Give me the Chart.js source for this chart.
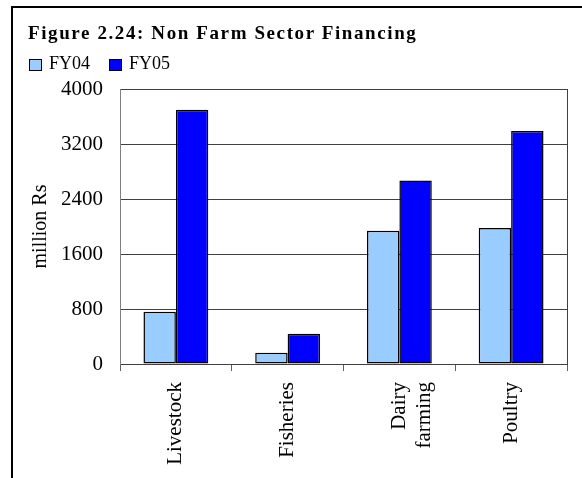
<!DOCTYPE html>
<html>
<head>
<meta charset="utf-8">
<script src="https://cdn.jsdelivr.net/npm/chart.js@4"></script>
<style>
    html, body { margin: 0; padding: 0; background: #fff; overflow: hidden; }
    #wrap { position: relative; width: 582px; height: 478px; }
    #chart { position: absolute; left: 0; top: 0; }
    #frame {
        position: absolute; left: 11px; top: 6px; width: 620px; height: 520px;
        border: 2px solid #000; pointer-events: none;
    }
    #title {
        position: absolute; left: 28px; top: 22px; line-height: 1;
        font: bold 19px "Liberation Serif", "Times New Roman", serif;
        letter-spacing: 1.6px; color: #000; white-space: nowrap;
    }
    #legend {
        position: absolute; left: 29px; top: 53px; display: flex; line-height: 1;
        font: 18px "Liberation Serif", "Times New Roman", serif; color: #000;
    }
    .item { display: flex; align-items: center; margin-right: 19px; }
    .box { width: 11px; height: 10px; border: 1px solid #000; margin-right: 7px; margin-top: 2px; }
</style>
</head>
<body>
<div id="wrap">
    <canvas id="chart" width="582" height="478"></canvas>
    <div id="title">Figure 2.24: Non Farm Sector Financing</div>
    <div id="legend"></div>
    <div id="frame"></div>
</div>
<script>
const categories = ['Livestock', 'Fisheries', ['Dairy', 'farming'], 'Poultry'];
const seriesNames = ['FY04', 'FY05'];
const fy04 = [760, 165, 1940, 1980];
const fy05 = [3700, 440, 2670, 3390];
const seriesColors = ['#99CCFF', '#0000FF'];
const yTicks = [0, 800, 1600, 2400, 3200, 4000];

const serif = '"Liberation Serif", "Times New Roman", serif';
Chart.defaults.font.family = serif;
Chart.defaults.color = '#000';

// legend built from the series
const legend = document.getElementById('legend');
seriesNames.forEach((name, i) => {
    const item = document.createElement('div');
    item.className = 'item';
    item.innerHTML = '<span class="box" style="background:' + seriesColors[i] + '"></span><span>' + name + '</span>';
    legend.appendChild(item);
});

// right border of the plot area
const plotFrame = {
    id: 'plotFrame',
    afterDraw(chart) {
        const { ctx, chartArea: a } = chart;
        ctx.save();
        ctx.strokeStyle = '#404040';
        ctx.lineWidth = 1;
        ctx.beginPath();
        ctx.moveTo(Math.round(a.right) + 0.5, a.top);
        ctx.lineTo(Math.round(a.right) + 0.5, a.bottom);
        ctx.stroke();
        ctx.restore();
    }
};

new Chart(document.getElementById('chart').getContext('2d'), {
    type: 'bar',
    data: {
        labels: categories,
        datasets: [fy04, fy05].map((vals, i) => ({
            label: seriesNames[i],
            data: vals,
            backgroundColor: seriesColors[i],
            borderColor: '#000',
            borderWidth: 1.5,
            borderSkipped: false,
            categoryPercentage: 0.58,
            barPercentage: 1.0,
        })),
    },
    options: {
        animation: false,
        responsive: false,
        layout: { padding: { left: 0, top: 89, right: 15, bottom: 0 } },
        plugins: {
            legend: { display: false },
            tooltip: { enabled: false },
        },
        scales: {
            x: {
                grid: { drawOnChartArea: false, color: '#606060', tickLength: 7, offset: true },
                border: { color: '#404040' },
                ticks: {
                    font: { size: 21 },
                    maxRotation: 90,
                    minRotation: 90,
                    padding: 11,
                    autoSkip: false,
                },
                afterFit(scale) { scale.height = 114; },
            },
            y: {
                min: 0,
                max: 4000,
                afterBuildTicks(scale) { scale.ticks = yTicks.map((v) => ({ value: v })); },
                grid: { color: '#404040', drawTicks: false },
                border: { color: '#808080' },
                ticks: {
                    font: { size: 21 },
                    padding: 17,
                    callback: (v) => String(v),
                },
                title: {
                    display: true,
                    text: 'million Rs',
                    font: { size: 20 },
                    padding: { top: 29, bottom: 0 },
                },
                afterFit(scale) { scale.width = 120; },
            },
        },
    },
    plugins: [plotFrame],
});
</script>
</body>
</html>
